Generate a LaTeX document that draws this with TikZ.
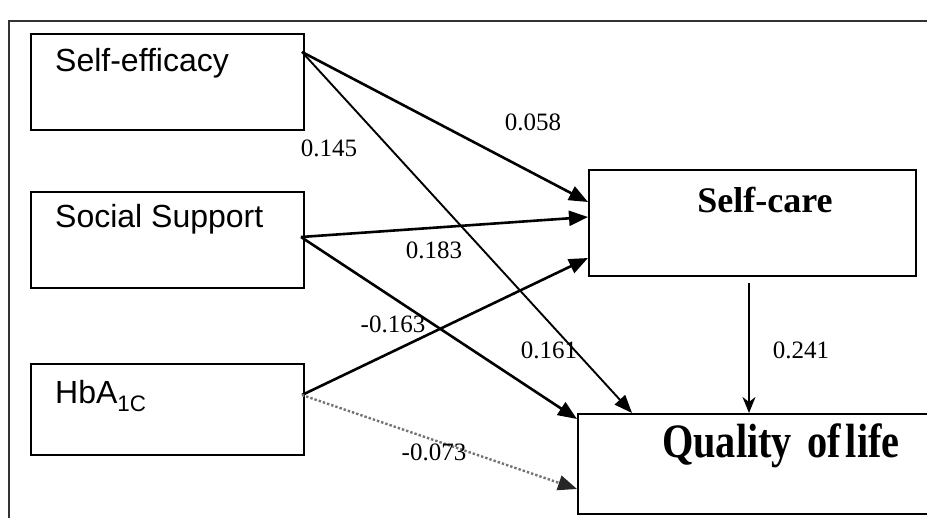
\documentclass[tikz,border=0pt]{standalone}
\usepackage{fontspec}
\setmainfont{Liberation Serif}
\newfontfamily\sansf{Liberation Sans}
\usetikzlibrary{arrows.meta}
\begin{document}
\begin{tikzpicture}[x=1pt,y=-1pt,
  box/.style={draw,line width=1.8pt,inner sep=0pt,anchor=north west},
  vname/.style={anchor=base west,inner sep=0pt,font=\sansf\fontsize{32}{32}\selectfont},
  coef/.style={anchor=center,inner sep=0pt,font=\fontsize{25}{25}\selectfont},
  thick arr/.style={line width=2.6pt,-{Triangle[length=19pt,width=15pt]}},
  thin arr/.style={line width=1.9pt,-{Triangle[length=18pt,width=14pt]}},
  dot arr/.style={line width=2.4pt,black!55,dotted,-{Triangle[length=19pt,width=15pt,color=black!85]}},
  down arr/.style={line width=1.8pt,-{Stealth[length=16pt,width=13pt,inset=5pt]}}]
\useasboundingbox (0,0) rectangle (927,518);
% outer frame (top and left)
\draw[line width=1.4pt,black!80] (927,21) -- (9,21) -- (9,518);
% boxes
\node[box,minimum width=273pt,minimum height=96pt] (se) at (30,33) {};
\node[box,minimum width=273pt,minimum height=96pt] (ss) at (30,191) {};
\node[box,minimum width=273pt,minimum height=91pt] (hb) at (30,363) {};
\node[box,minimum width=327pt,minimum height=106pt] (sc) at (588,169) {};
\node[box,minimum width=360pt,minimum height=100pt] (ql) at (577,413) {};
% box texts
\node[vname] (seT) at (55,72) {Self-efficacy};
\node[vname] (ssT) at (55,228) {Social Support};
\node[vname] (hbT) at (55,404) {HbA\textsubscript{1C}};
\node[anchor=base,inner sep=0pt,font=\bfseries\fontsize{36}{36}\selectfont] (scT) at (765,213) {Self-care};
\node[anchor=base west,inner sep=0pt,font=\bfseries\fontsize{48}{48}\selectfont] (qlT) at (662,458) {\scalebox{0.84}[1]{Quality\hspace{6pt} of\hspace{-6pt} life}};
% connector end points
\coordinate (seO) at (302,52);
\coordinate (ssO) at (301,237);
\coordinate (hbO) at (302,395);
\coordinate (scA) at (588,202);
\coordinate (scB) at (588,217);
\coordinate (scC) at (588,258);
\coordinate (scO) at (749,283);
\coordinate (qlA) at (632,413);
\coordinate (qlB) at (577,419);
\coordinate (qlC) at (577,489);
\coordinate (qlD) at (749,413);
% connectors
\draw[thick arr] (seO) -- (scA);
\draw[thin arr] (seO) -- (qlA);
\draw[thick arr] (ssO) -- (scB);
\draw[thick arr] (ssO) -- (qlB);
\draw[thick arr] (hbO) -- (scC);
\draw[dot arr] (hbO) -- (qlC);
\draw[down arr] (scO) -- (qlD);
% coefficients
\node[coef] (c1) at (533,122) {0.058};
\node[coef] (c2) at (329,148) {0.145};
\node[coef] (c3) at (434,250) {0.183};
\node[coef] (c4) at (393,324) {-0.163};
\node[coef] (c5) at (549,350) {0.161};
\node[coef] (c6) at (434,452) {-0.073};
\node[coef] (c7) at (801,350) {0.241};
\end{tikzpicture}
\end{document}
